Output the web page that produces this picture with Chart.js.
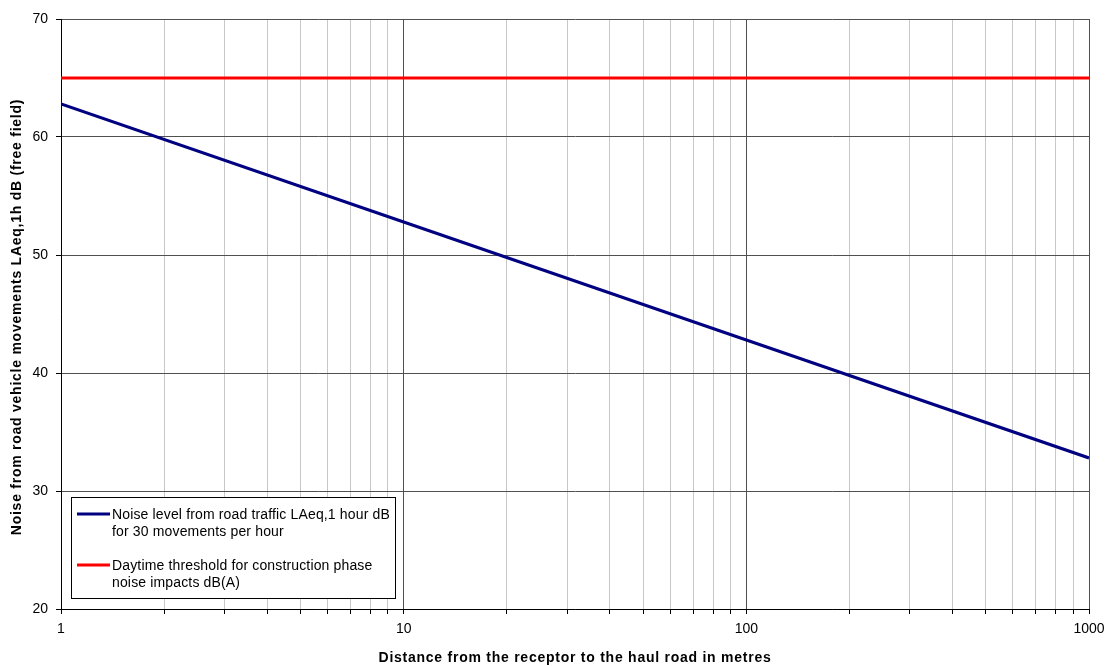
<!DOCTYPE html>
<html>
<head>
<meta charset="utf-8">
<script src="https://cdn.jsdelivr.net/npm/chart.js@4.4.1/dist/chart.umd.min.js"></script>
<style>
  html, body { margin: 0; padding: 0; background: #ffffff; }
  #wrap { width: 1109px; height: 666px; }
</style>
</head>
<body>
<div id="wrap"><canvas id="c" width="1109" height="666"></canvas></div>
<script>
// Distance from the haul road (m) and predicted noise level (dB)
const distances = [1, 10, 100, 1000];
const noiseLevels = [62.8, 52.8, 42.8, 32.8];
const thresholdDistances = [1, 1000];
const thresholdLevels = [65, 65];

// Log-axis grid positions and the decades that get a label
const xGridValues = [1, 2, 3, 4, 5, 6, 7, 8, 9,
                     10, 20, 30, 40, 50, 60, 70, 80, 90,
                     100, 200, 300, 400, 500, 600, 700, 800, 900, 1000];
const xLabelValues = [1, 10, 100, 1000];
const yTickValues = [20, 30, 40, 50, 60, 70];

const xTitle = 'Distance from the receptor to the haul road in metres';
const yTitle = 'Noise from road vehicle movements LAeq,1h dB (free field)';

const seriesNames = [
  ['Noise level from road traffic LAeq,1 hour dB', 'for 30 movements per hour'],
  ['Daytime threshold for construction phase', 'noise impacts dB(A)']
];
const seriesColors = ['#000080', '#ff0000'];

const FONT = 'Arial, "Liberation Sans", sans-serif';

// Axis titles, drawn with a little extra letter spacing
const axisTitles = {
  id: 'axisTitles',
  afterDraw(chart) {
    const ctx = chart.ctx;
    const area = chart.chartArea;
    ctx.save();
    ctx.font = 'bold 14px ' + FONT;
    ctx.letterSpacing = '0.75px';
    ctx.fillStyle = '#000000';
    ctx.textAlign = 'center';
    ctx.textBaseline = 'middle';
    ctx.fillText(xTitle, (area.left + area.right) / 2, 658);
    ctx.translate(17, (area.top + area.bottom) / 2 + 3);
    ctx.rotate(-Math.PI / 2);
    ctx.fillText(yTitle, 0, 0);
    ctx.restore();
  }
};

// Boxed legend drawn in the lower-left corner of the plot area
const boxLegend = {
  id: 'boxLegend',
  afterDraw(chart) {
    const ctx = chart.ctx;
    const area = chart.chartArea;
    const x0 = area.left + 10, y0 = area.bottom - 112, w = 324, h = 101;
    ctx.save();
    ctx.fillStyle = '#ffffff';
    ctx.fillRect(x0, y0, w, h);
    ctx.strokeStyle = '#000000';
    ctx.lineWidth = 1;
    ctx.strokeRect(x0 + 0.5, y0 + 0.5, w, h);
    ctx.font = '14px ' + FONT;
    ctx.letterSpacing = '0.15px';
    ctx.fillStyle = '#000000';
    ctx.textBaseline = 'middle';
    const rows = [y0 + 18, y0 + 69];
    seriesNames.forEach((lines, i) => {
      const ry = rows[i];
      ctx.strokeStyle = seriesColors[i];
      ctx.lineWidth = 3;
      ctx.beginPath();
      ctx.moveTo(x0 + 6, ry - 1);
      ctx.lineTo(x0 + 39, ry - 1);
      ctx.stroke();
      lines.forEach((t, j) => ctx.fillText(t, x0 + 41, ry + j * 17));
    });
    ctx.restore();
  }
};

new Chart(document.getElementById('c'), {
  type: 'line',
  data: {
    datasets: [
      {
        label: seriesNames[0].join(' '),
        data: distances.map((d, i) => ({ x: d, y: noiseLevels[i] })),
        borderColor: seriesColors[0],
        borderWidth: 3,
        pointRadius: 0,
        fill: false
      },
      {
        label: seriesNames[1].join(' '),
        data: thresholdDistances.map((d, i) => ({ x: d, y: thresholdLevels[i] })),
        borderColor: seriesColors[1],
        borderWidth: 3,
        pointRadius: 0,
        fill: false
      }
    ]
  },
  options: {
    responsive: false,
    animation: false,
    events: [],
    layout: { padding: { left: 0, top: 19, right: 20, bottom: 0 } },
    plugins: { legend: { display: false }, tooltip: { enabled: false } },
    scales: {
      x: {
        type: 'logarithmic',
        min: 1,
        max: 1000,
        afterBuildTicks(scale) {
          scale.ticks = xGridValues.map(v => ({ value: v, major: xLabelValues.includes(v) }));
        },
        afterFit(scale) {
          scale.height = 57;
          scale.paddingRight = 0;
          scale.paddingLeft = 0;
        },
        grid: {
          color: ctx => (ctx.tick && xLabelValues.includes(ctx.tick.value)) ? '#505050' : '#c8c8c8',
          tickColor: '#000000',
          tickLength: 5,
          lineWidth: 1
        },
        border: { display: true, color: '#000000', width: 1 },
        ticks: {
          autoSkip: false,
          maxRotation: 0,
          color: '#000000',
          font: { family: FONT, size: 14 },
          padding: 7,
          callback: v => xLabelValues.includes(v) ? String(v) : ''
        }
      },
      y: {
        type: 'linear',
        min: 20,
        max: 70,
        afterBuildTicks(scale) {
          scale.ticks = yTickValues.map(v => ({ value: v }));
        },
        afterFit(scale) {
          scale.width = 61;
          scale.paddingTop = 0;
          scale.paddingBottom = 0;
        },
        grid: {
          color: '#505050',
          tickColor: '#000000',
          tickLength: 5,
          lineWidth: 1
        },
        border: { display: true, color: '#000000', width: 1 },
        ticks: {
          color: '#000000',
          font: { family: FONT, size: 14 },
          padding: 8
        }
      }
    }
  },
  plugins: [axisTitles, boxLegend]
});
</script>
</body>
</html>
